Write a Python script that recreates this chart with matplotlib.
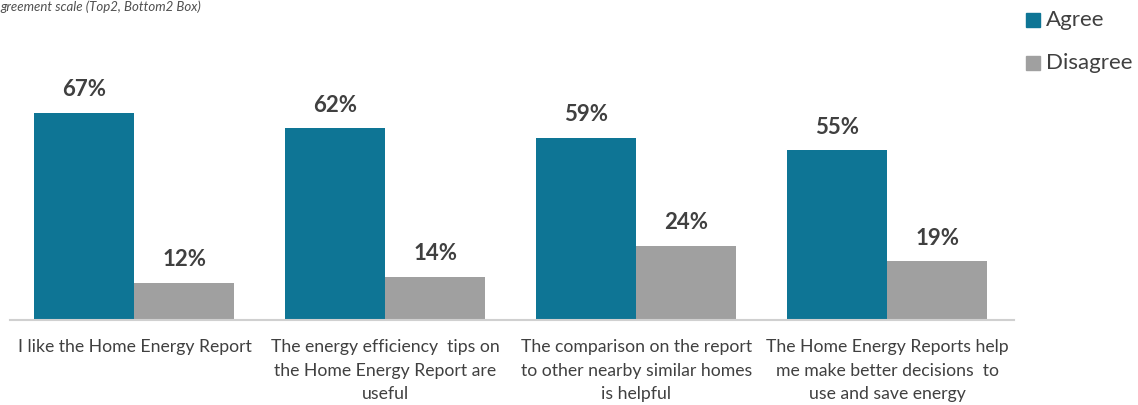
#!/usr/bin/env python3
"""Home Energy Report agreement chart (Top2 / Bottom2 box)."""

import matplotlib.pyplot as plt
import numpy as np
from matplotlib.patches import Rectangle

CATEGORIES = [
    "I like the Home Energy Report",
    "The energy efficiency  tips on\nthe Home Energy Report are\nuseful",
    "The comparison on the report\nto other nearby similar homes\nis helpful",
    "The Home Energy Reports help\nme make better decisions  to\nuse and save energy",
]
AGREE = [67, 62, 59, 55]
DISAGREE = [12, 14, 24, 19]
SERIES = ["Agree", "Disagree"]
SUBTITLE = "greement scale (Top2, Bottom2 Box)"

COLORS = {"Agree": "#0E7595", "Disagree": "#A0A0A0"}
TEXT = "#404040"

plt.rcParams["font.family"] = ["Lato", "DejaVu Sans"]

W, H = 1138, 405
fig = plt.figure(figsize=(W / 100, H / 100), dpi=100)
ax = fig.add_axes([10 / W, (H - 320) / H, (1014 - 10) / W, 320 / H])

x = np.arange(len(CATEGORIES))
width = 100 / 251
bars_a = ax.bar(x - width / 2, AGREE, width, color=COLORS["Agree"])
bars_d = ax.bar(x + width / 2, DISAGREE, width, color=COLORS["Disagree"])

for bars, vals in [(bars_a, AGREE), (bars_d, DISAGREE)]:
    for bar, v in zip(bars, vals):
        ax.annotate(
            f"{v}%",
            xy=(bar.get_x() + bar.get_width() / 2, v),
            xytext=(0, 9),
            textcoords="offset points",
            ha="center",
            va="bottom",
            fontsize=16,
            fontweight="bold",
            color=TEXT,
        )

ax.set_xlim(-0.496, (1014 - 134.5) / 251)
ax.set_ylim(0, 320 / 3.09)
ax.set_xticks(x)
ax.set_xticklabels(CATEGORIES, fontsize=12.7, color=TEXT, linespacing=1.56)
ax.tick_params(axis="x", length=0, pad=14)
ax.set_yticks([])
for side in ["top", "right", "left"]:
    ax.spines[side].set_visible(False)
ax.spines["bottom"].set_color("#D0D0D0")
ax.spines["bottom"].set_linewidth(1.5)

fig.text(0, 1 - 7 / H, SUBTITLE, fontsize=9.5, style="italic", color="#505050",
         ha="left", va="center")

# legend, drawn by hand to match the placement
for i, name in enumerate(SERIES):
    yc = 1 - (20 + 43 * i) / H
    fig.patches.append(Rectangle((1026 / W, yc - 7 / H), 14 / W, 14 / H,
                                 transform=fig.transFigure, color=COLORS[name]))
    fig.text(1046 / W, yc, name, fontsize=16, color=TEXT, ha="left", va="center")

fig.savefig("out.png", dpi=100)
